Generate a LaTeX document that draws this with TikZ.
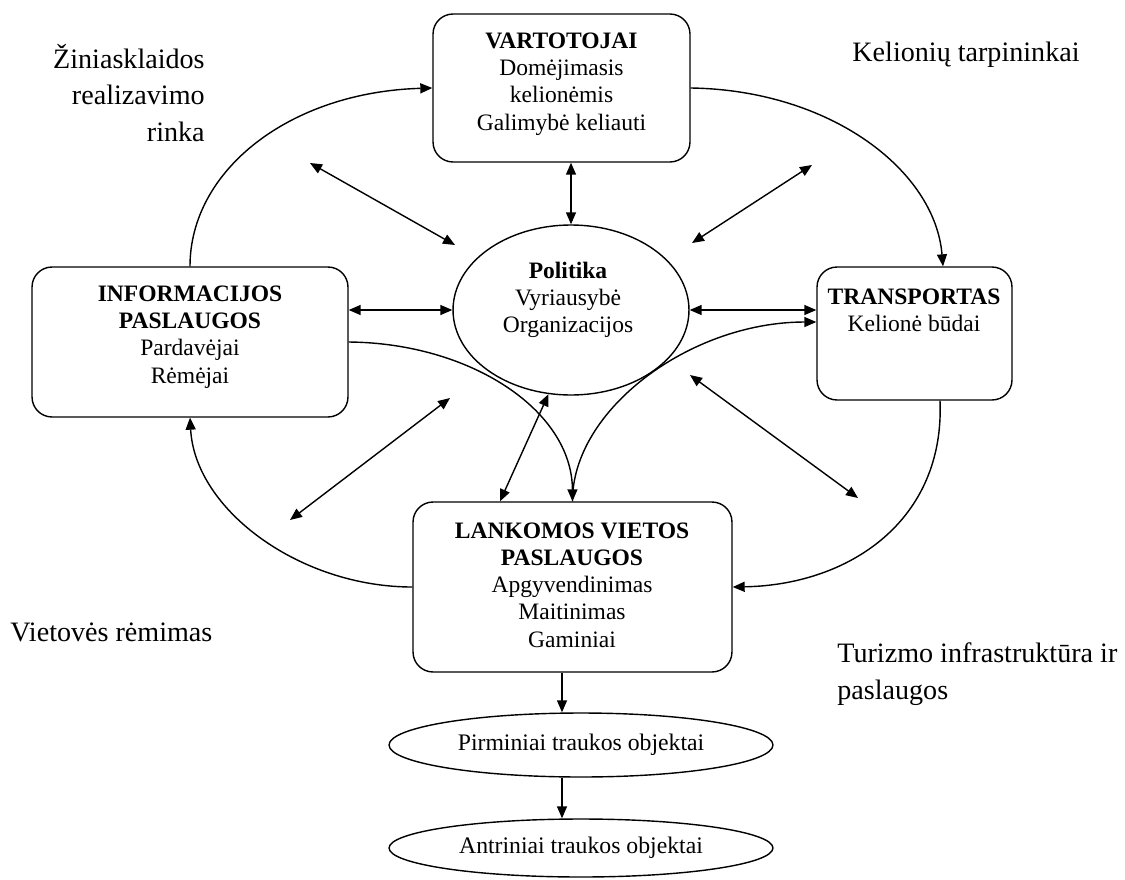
\documentclass[tikz,border=0pt]{standalone}
\usepackage{fontspec}
\setmainfont{Liberation Serif}
\usetikzlibrary{arrows.meta,shapes.geometric,calc}
\begin{document}
\begin{tikzpicture}[x=0.02cm,y=-0.02cm,
  box/.style={draw, rounded corners=0.4cm, line width=0.8pt, inner sep=0pt},
  ell/.style={draw, ellipse, line width=0.8pt, inner sep=0pt},
  txt/.style={align=center, font=\fontsize{13.4}{15.5}\selectfont, inner sep=0pt},
  lbl/.style={font=\fontsize{16}{21}\selectfont, inner sep=0pt},
  con/.style={line width=0.8pt, -{Triangle[length=0.24cm,width=0.2cm]}},
  dcon/.style={line width=0.8pt, {Triangle[length=0.24cm,width=0.2cm]}-{Triangle[length=0.24cm,width=0.2cm]}},
]
\useasboundingbox (0,0) rectangle (1125,879);

% shapes
\node[box, minimum width=5.14cm, minimum height=2.96cm] (vart) at (561.5,88) {};
\node[box, minimum width=6.32cm, minimum height=3.0cm] (info) at (190,342) {};
\node[box, minimum width=3.9cm, minimum height=2.66cm] (trans) at (914.5,333.5) {};
\node[box, minimum width=6.38cm, minimum height=3.4cm] (lank) at (572.5,587) {};
\node[ell, minimum width=4.72cm, minimum height=3.4cm] (pol) at (571,310) {};
\node[ell, minimum width=7.68cm, minimum height=1.28cm, font=\fontsize{13.5}{15}\selectfont] (pirm) at (581,745) {Pirminiai traukos objektai};
\node[ell, minimum width=7.68cm, minimum height=1.16cm, font=\fontsize{13.5}{15}\selectfont] (antr) at (581,848) {Antriniai traukos objektai};

% texts in shapes
\node[txt] (vartt) at (561.5,84) {\textbf{VARTOTOJAI}\\Domėjimasis\\kelionėmis\\Galimybė keliauti};
\node[txt] (infot) at (190,337) {\textbf{INFORMACIJOS}\\\textbf{PASLAUGOS}\\Pardavėjai\\Rėmėjai};
\node[txt] (transt) at (914,310) {\textbf{TRANSPORTAS}\\Kelionė būdai};
\node[txt] (lankt) at (572,585) {\textbf{LANKOMOS VIETOS}\\\textbf{PASLAUGOS}\\Apgyvendinimas\\Maitinimas\\Gaminiai};
\node[txt] (polt) at (568,300) {\textbf{Politika}\\Vyriausybė\\Organizacijos};

% outer labels
\node[lbl, anchor=east, align=right] (zin) at (205,93) {Žiniasklaidos\\realizavimo\\rinka};
\node[lbl] (kel) at (966,55) {Kelionių tarpininkai};
\node[lbl, anchor=west] (viet) at (10,632) {Vietovės rėmimas};
\node[lbl, anchor=west, align=left] (tur) at (837,674) {Turizmo infrastruktūra ir\\paslaugos};

% outer cycle
\draw[con] (info.north) .. controls (190,170) and (290,92) .. (vart.west);
\draw[con] (vart.east) .. controls (830,90) and (935,170) .. ([xshift=0.57cm]trans.north);
\draw[con] ([xshift=0.51cm]trans.south) .. controls (945,520) and (850,585) .. (lank.east);
\draw[con] (lank.west) .. controls (300,587) and (195,510) .. (info.south);

% links with Politika
\draw[dcon] (pol.north) -- (pol.north |- vart.south);
\draw[dcon] (info.east |- pol.west) -- (pol.west);
\draw[dcon] (pol.east) -- (pol.east -| trans.west);
\draw[dcon] (pol.255) -- ([xshift=-1.45cm]lank.north);

% crossing curves
\draw[con] (info.east) .. controls (470,343) and (572,410) .. (lank.north);
\draw[con] (lank.north) .. controls (572,410) and (690,322) .. ([yshift=0.23cm]trans.west);

% free diagonal arrows
\coordinate (d1a) at (310,163); \coordinate (d1b) at (455,245);
\coordinate (d2a) at (812,165); \coordinate (d2b) at (692,243);
\coordinate (d3a) at (450,398); \coordinate (d3b) at (290,520);
\coordinate (d4a) at (690,375); \coordinate (d4b) at (858,498);
\draw[dcon] (d1a) -- (d1b);
\draw[dcon] (d2a) -- (d2b);
\draw[dcon] (d3a) -- (d3b);
\draw[dcon] (d4a) -- (d4b);

% bottom chain
\coordinate (ls) at ([xshift=-0.21cm]lank.south);
\draw[con] (ls) -- (ls |- pirm.north);
\draw[con] (pirm.south -| ls) -- (antr.north -| ls);
\end{tikzpicture}
\end{document}
